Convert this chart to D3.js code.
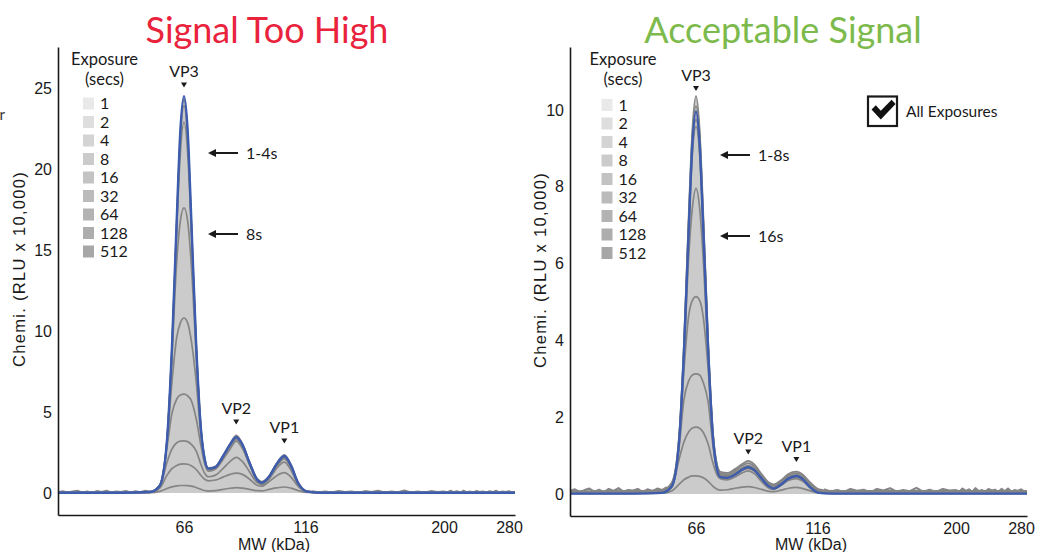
<!DOCTYPE html>
<html>
<head>
<meta charset="utf-8">
<script src="https://cdn.jsdelivr.net/npm/d3@7"></script>
<style>
  html, body { margin: 0; padding: 0; background: #fff; }
  svg { display: block; }
</style>
</head>
<body>
<svg id="chart" width="1042" height="552"></svg>
<script>
// ---------------------------------------------------------------
// Sample positions along the molecular-weight axis (kDa)
const mwGrid = [14, 40, 52, 56, 59, 61, 63, 64.5, 66, 67.5, 69, 71, 73, 74.5, 76, 79, 82,
                85, 87.5, 90, 93, 96, 98, 101, 104, 107.3, 110, 113, 117, 125, 150, 200, 287];

const exposures = [1, 2, 4, 8, 16, 32, 64, 128, 512];
const xTickValues = [66, 116, 200, 280];
const tooHighYTicks = [0, 5, 10, 15, 20, 25];
const acceptableYTicks = [0, 2, 4, 6, 8, 10];
const peakNames = ['VP3', 'VP2', 'VP1'];
const peakMW = [66, 87.5, 107.3];

// ---- Signal Too High: electropherograms per exposure (RLU x 10,000)
const tooHigh1s   = [0.05,0.06,0.08,0.5,3.3,8.9,16.8,22.2,24.3,22.2,16.8,9.25,3.95,2.15,1.55,1.65,2.3,3.05,3.55,3.05,1.9,0.9,0.7,1.05,1.8,2.35,1.75,0.65,0.12,0.06,0.05,0.06,0.05];
const tooHigh2s   = [0.04,0.05,0.07,0.48,3.3,8.8,16.6,21.9,23.9,21.9,16.6,9.1,3.9,2.1,1.5,1.62,2.27,3.02,3.5,3.02,1.87,0.87,0.66,1.02,1.77,2.31,1.72,0.62,0.1,0.05,0.04,0.05,0.04];
const tooHigh4s   = [0.03,0.04,0.06,0.46,3.25,8.7,16.3,21.0,22.9,21.0,16.3,9.0,3.85,2.08,1.48,1.6,2.24,2.98,3.44,2.98,1.85,0.85,0.64,1.0,1.75,2.27,1.69,0.6,0.09,0.04,0.03,0.04,0.03];
const tooHigh8s   = [0.03,0.03,0.05,0.45,3.2,8.3,14.3,16.8,17.6,16.8,14.1,8.6,3.8,2.05,1.47,1.58,2.22,2.95,3.4,2.95,1.83,0.84,0.63,0.99,1.73,2.25,1.68,0.6,0.09,0.03,0.03,0.03,0.03];
const tooHigh16s  = [0.03,0.03,0.05,0.44,3.1,6.8,9.6,10.5,10.8,10.5,9.4,6.9,3.5,1.98,1.44,1.55,2.17,2.88,3.3,2.88,1.8,0.83,0.62,0.98,1.7,2.2,1.65,0.58,0.09,0.03,0.03,0.03,0.03];
const tooHigh32s  = [0.02,0.02,0.05,0.43,2.85,4.9,5.8,6.05,6.1,6.0,5.7,4.6,2.9,1.8,1.35,1.48,2.05,2.72,3.2,2.75,1.72,0.8,0.6,0.95,1.62,2.1,1.58,0.56,0.08,0.02,0.02,0.02,0.02];
const tooHigh64s  = [0.02,0.02,0.04,0.38,1.9,2.7,3.1,3.2,3.22,3.17,3.0,2.6,1.75,1.22,1.0,1.1,1.5,1.95,2.2,1.95,1.3,0.65,0.52,0.85,1.5,1.9,1.42,0.5,0.07,0.02,0.02,0.02,0.02];
const tooHigh128s = [0.02,0.02,0.04,0.3,1.1,1.5,1.7,1.78,1.8,1.77,1.68,1.45,1.08,0.85,0.75,0.8,0.98,1.15,1.22,1.15,0.85,0.48,0.42,0.7,1.05,1.25,0.98,0.4,0.06,0.02,0.02,0.02,0.02];
const tooHigh512s = [0.01,0.01,0.02,0.1,0.28,0.38,0.44,0.46,0.46,0.45,0.42,0.34,0.22,0.15,0.12,0.15,0.22,0.29,0.33,0.3,0.22,0.14,0.13,0.22,0.31,0.37,0.3,0.15,0.03,0.01,0.01,0.01,0.01];
const tooHighHDR  = [0.01,0.01,0.06,0.45,3.3,8.9,16.9,22.4,24.5,22.4,16.9,9.2,3.9,2.1,1.5,1.6,2.25,3.0,3.45,3.0,1.85,0.85,0.64,1.0,1.75,2.28,1.7,0.6,0.08,0.01,0.01,0.01,0.01];

// ---- Acceptable Signal: electropherograms per exposure (RLU x 10,000)
const acceptable1s   = [0.07,0.08,0.1,0.3,1.5,3.9,7.3,9.5,10.36,9.5,7.3,4.0,1.6,0.82,0.58,0.55,0.65,0.78,0.86,0.77,0.52,0.3,0.25,0.36,0.52,0.58,0.5,0.3,0.12,0.08,0.08,0.08,0.08];
const acceptable2s   = [0.06,0.06,0.08,0.27,1.45,3.8,7.15,9.35,10.1,9.35,7.15,3.9,1.55,0.78,0.54,0.51,0.61,0.74,0.8,0.72,0.48,0.27,0.22,0.33,0.48,0.54,0.46,0.26,0.1,0.06,0.06,0.06,0.06];
const acceptable4s   = [0.04,0.04,0.06,0.23,1.38,3.7,6.95,9.0,9.75,9.0,6.95,3.8,1.5,0.74,0.5,0.47,0.56,0.68,0.74,0.66,0.44,0.23,0.18,0.29,0.44,0.5,0.42,0.22,0.07,0.04,0.04,0.04,0.04];
const acceptable8s   = [0.03,0.03,0.05,0.21,1.33,3.6,6.8,8.85,9.57,8.85,6.8,3.7,1.45,0.71,0.48,0.45,0.54,0.66,0.72,0.64,0.42,0.21,0.16,0.27,0.42,0.48,0.4,0.2,0.05,0.03,0.03,0.03,0.03];
const acceptable16s  = [0.03,0.03,0.05,0.2,1.3,3.5,6.2,7.45,7.96,7.45,6.1,3.62,1.42,0.69,0.47,0.44,0.53,0.65,0.7,0.63,0.41,0.2,0.15,0.26,0.41,0.47,0.39,0.19,0.04,0.03,0.03,0.03,0.03];
const acceptable32s  = [0.02,0.02,0.04,0.2,1.3,3.2,4.65,5.04,5.14,5.04,4.6,3.25,1.38,0.67,0.46,0.43,0.52,0.63,0.68,0.61,0.4,0.19,0.15,0.25,0.4,0.46,0.38,0.18,0.04,0.02,0.02,0.02,0.02];
const acceptable64s  = [0.02,0.02,0.04,0.19,1.2,2.45,2.95,3.1,3.13,3.1,2.9,2.4,1.25,0.64,0.45,0.42,0.5,0.62,0.66,0.6,0.39,0.19,0.14,0.24,0.39,0.45,0.37,0.17,0.04,0.02,0.02,0.02,0.02];
const acceptable128s = [0.02,0.02,0.03,0.17,0.9,1.35,1.62,1.72,1.74,1.71,1.6,1.3,0.8,0.52,0.4,0.37,0.44,0.55,0.6,0.53,0.32,0.15,0.12,0.22,0.35,0.4,0.33,0.16,0.04,0.02,0.02,0.02,0.02];
const acceptable512s = [0.01,0.01,0.02,0.08,0.25,0.37,0.44,0.47,0.47,0.46,0.42,0.33,0.2,0.13,0.1,0.11,0.15,0.18,0.19,0.17,0.12,0.07,0.06,0.1,0.15,0.17,0.14,0.08,0.02,0.01,0.01,0.01,0.01];
const acceptableHDR  = [0.01,0.01,0.03,0.2,1.35,3.65,6.9,9.1,9.96,9.1,6.9,3.75,1.45,0.7,0.44,0.42,0.5,0.63,0.7,0.62,0.4,0.2,0.14,0.25,0.4,0.47,0.38,0.17,0.03,0.01,0.01,0.01,0.01];

// ---- Baseline noise of the short exposures, on the flat stretches of the run
const noiseNearMW = d3.range(14, 55, 2);   // 14 ... 54 kDa
const noiseFarMW  = d3.range(120, 285, 4); // 120 ... 284 kDa
const tooHighNoiseNear   = [0.06,0.12,0.04,0.1,0.15,0.05,0.11,0.03,0.13,0.08,0.16,0.05,0.1,0.07,0.14,0.04,0.12,0.06,0.15,0.09,0.18];
const tooHighNoiseFar    = [0.12,0.06,0.1,0.04,0.14,0.08,0.11,0.03,0.13,0.07,0.16,0.05,0.1,0.06,0.17,0.05,0.11,0.04,0.13,0.08,0.1,0.05,0.15,0.07,0.12,0.04,0.16,0.06,0.1,0.05,0.14,0.08,0.11,0.04,0.13,0.07,0.15,0.05,0.1,0.07,0.12,0.05];
const acceptableNoiseNear = [0.08,0.12,0.05,0.1,0.14,0.06,0.11,0.04,0.13,0.08,0.15,0.06,0.1,0.09,0.13,0.05,0.12,0.07,0.14,0.1,0.18];
const acceptableNoiseFar  = [0.12,0.06,0.1,0.05,0.13,0.08,0.11,0.04,0.13,0.09,0.15,0.06,0.1,0.07,0.16,0.06,0.11,0.05,0.13,0.09,0.1,0.06,0.14,0.08,0.12,0.05,0.15,0.07,0.1,0.06,0.13,0.09,0.11,0.05,0.13,0.07,0.14,0.06,0.1,0.08,0.12,0.06];

// ---------------------------------------------------------------
// Styling
const FONT_TITLE = "Lato, 'Open Sans', sans-serif";
const FONT_TEXT  = "Lato, 'Open Sans', sans-serif";
const FONT_AXIS  = "'Liberation Sans', Arial, sans-serif";
const INK   = '#1a1a1a';
const FILL  = '#cbcbcb';
const TRACE = '#858585';
const BLUE  = '#3d5cae';
const swatchColors = ['#e9e9e9', '#dedede', '#d4d4d4', '#cbcbcb', '#c3c3c3', '#bbbbbb', '#b3b3b3', '#adadad', '#a7a7a7'];

// MW axis calibration: kDa -> pixel offset from the y axis (piecewise, ladder based)
const mwCalibration = [14, 66, 116, 200, 280, 287];
const axisOffsets   = [0, 126, 247.5, 386, 451, 457];

const svg = d3.select('#chart');

const panels = [
  {
    title: 'Signal Too High', titleColor: '#e9233c', titleX: 267,
    left: 58, top: 47, bottom: 515, yDomain: [-1.36, 27.53], yTicks: tooHighYTicks,
    traces: [tooHigh1s, tooHigh2s, tooHigh4s, tooHigh8s, tooHigh16s, tooHigh32s, tooHigh64s, tooHigh128s, tooHigh512s],
    hdr: tooHighHDR, noiseNear: tooHighNoiseNear, noiseFar: tooHighNoiseFar, noiseWidth: 1.5,
    yTitleX: 25, yTitleY: 269, xTitleX: 274,
    legendX: 104.5, legendRow0: 103.5,
    peakLabelY: [77, 414, 433],
    arrows: [{ y: 153, label: '1-4s' }, { y: 234, label: '8s' }]
  },
  {
    title: 'Acceptable Signal', titleColor: '#7dba4c', titleX: 783,
    left: 570, top: 47, bottom: 516, yDomain: [-0.573, 11.64], yTicks: acceptableYTicks,
    traces: [acceptable1s, acceptable2s, acceptable4s, acceptable8s, acceptable16s, acceptable32s, acceptable64s, acceptable128s, acceptable512s],
    hdr: acceptableHDR, noiseNear: acceptableNoiseNear, noiseFar: acceptableNoiseFar, noiseWidth: 2.2,
    yTitleX: 546, yTitleY: 270, xTitleX: 811,
    legendX: 623, legendRow0: 105,
    peakLabelY: [80.5, 444, 451.5],
    arrows: [{ y: 155, label: '1-8s' }, { y: 236, label: '16s' }]
  }
];

function drawPanel(p) {
  const g = svg.append('g');
  const x = d3.scaleLinear().domain(mwCalibration).range(axisOffsets.map(o => p.left + o));
  const y = d3.scaleLinear().domain(p.yDomain).range([p.bottom, p.top]);

  // grey envelope fill under the tallest trace
  const envelope = mwGrid.map((m, i) => d3.max(p.traces.concat([p.hdr]), t => t[i]));
  const area = d3.area()
    .x((d, i) => x(mwGrid[i])).y0(y(0)).y1(d => y(d))
    .curve(d3.curveMonotoneX);
  g.append('path').datum(envelope).attr('d', area).attr('fill', FILL);

  const line = d3.line()
    .x((d, i) => x(mwGrid[i])).y(d => y(d))
    .curve(d3.curveMonotoneX);

  // individual exposures, longest first so short exposures sit on top
  p.traces.slice().reverse().forEach(t => {
    g.append('path').datum(t).attr('d', line)
      .attr('fill', 'none').attr('stroke', TRACE).attr('stroke-width', 1.7);
  });

  // baseline noise
  const noiseLine = d3.line().x(d => x(d[0])).y(d => y(d[1]));
  [[noiseNearMW, p.noiseNear], [noiseFarMW, p.noiseFar]].forEach(([mw, vals]) => {
    g.append('path').datum(mw.map((m, i) => [m, vals[i]])).attr('d', noiseLine)
      .attr('fill', 'none').attr('stroke', TRACE).attr('stroke-width', p.noiseWidth)
      .attr('stroke-linejoin', 'round');
  });

  // high dynamic range composite
  g.append('path').datum(p.hdr).attr('d', line)
    .attr('fill', 'none').attr('stroke', BLUE).attr('stroke-width', 2.4);

  // axes
  const yAxis = d3.axisLeft(y).tickValues(p.yTicks).tickSize(0).tickPadding(6).tickSizeOuter(0);
  const xAxis = d3.axisBottom(x).tickValues(xTickValues).tickSize(0).tickPadding(7).tickSizeOuter(0);
  const ya = g.append('g').attr('transform', `translate(${p.left},0)`).call(yAxis);
  const xa = g.append('g').attr('transform', `translate(0,${p.bottom})`).call(xAxis);
  [ya, xa].forEach(a => {
    a.select('.domain').attr('stroke', INK).attr('stroke-width', 1.6);
    a.selectAll('text').attr('font-family', FONT_AXIS).attr('font-size', 16).attr('fill', INK);
  });

  // axis titles
  g.append('text')
    .attr('transform', `translate(${p.yTitleX},${p.yTitleY}) rotate(-90)`)
    .attr('text-anchor', 'middle').attr('font-family', FONT_AXIS).attr('font-size', 16.5)
    .attr('letter-spacing', 1.3).attr('fill', INK)
    .text('Chemi. (RLU x 10,000)');
  g.append('text')
    .attr('x', p.xTitleX).attr('y', 550).attr('text-anchor', 'middle')
    .attr('font-family', FONT_AXIS).attr('font-size', 16).attr('fill', INK)
    .text('MW (kDa)');

  // title
  g.append('text')
    .attr('x', p.titleX).attr('y', 42.5).attr('text-anchor', 'middle')
    .attr('font-family', FONT_TITLE).attr('font-size', 36).attr('fill', p.titleColor)
    .text(p.title);

  // exposure legend
  const lg = g.append('g').attr('font-family', FONT_TEXT).attr('fill', INK);
  lg.append('text').attr('x', p.legendX).attr('y', 65).attr('text-anchor', 'middle')
    .attr('font-size', 16.5).text('Exposure');
  lg.append('text').attr('x', p.legendX).attr('y', 84.5).attr('text-anchor', 'middle')
    .attr('font-size', 16.5).text('(secs)');
  const rows = lg.selectAll('g.row').data(exposures).join('g').attr('class', 'row')
    .attr('transform', (d, i) => `translate(${p.legendX},${p.legendRow0 + i * 18.5})`);
  rows.append('rect').attr('x', -21.5).attr('y', -6).attr('width', 11).attr('height', 12)
    .attr('fill', (d, i) => swatchColors[i]);
  rows.append('text').attr('x', -4.5).attr('y', 5.8).attr('font-size', 16).text(d => d);

  // peak labels with markers
  peakNames.forEach((name, i) => {
    const px = x(peakMW[i]);
    const ty = p.peakLabelY[i];
    g.append('text').attr('x', px).attr('y', ty).attr('text-anchor', 'middle')
      .attr('font-family', FONT_TEXT).attr('font-size', 16).attr('fill', INK).text(name);
    g.append('path')
      .attr('d', `M${px - 3},${ty + 5.5}L${px + 3},${ty + 5.5}L${px},${ty + 10.5}Z`)
      .attr('fill', INK);
  });

  // exposure call-out arrows
  p.arrows.forEach(a => {
    const tip = p.left + 150, tail = p.left + 180;
    g.append('line').attr('x1', tip + 5).attr('x2', tail).attr('y1', a.y).attr('y2', a.y)
      .attr('stroke', INK).attr('stroke-width', 2);
    g.append('path').attr('d', `M${tip},${a.y}L${tip + 8},${a.y - 4}L${tip + 8},${a.y + 4}Z`)
      .attr('fill', INK);
    g.append('text').attr('x', p.left + 188).attr('y', a.y + 5.5)
      .attr('font-family', FONT_TEXT).attr('font-size', 16).attr('fill', INK).text(a.label);
  });
}

panels.forEach(drawPanel);

// "All Exposures" check box
const cb = svg.append('g');
cb.append('rect').attr('x', 868).attr('y', 96.5).attr('width', 29).attr('height', 29.5)
  .attr('fill', '#fff').attr('stroke', INK).attr('stroke-width', 2.2);
cb.append('path')
  .attr('d', 'M871.5,109.5L875.8,105.3L880.8,110.8L891.6,99.8L895.6,104L880.8,119.5Z')
  .attr('fill', '#111');
cb.append('text').attr('x', 906).attr('y', 116.5)
  .attr('font-family', FONT_TEXT).attr('font-size', 15.5).attr('fill', INK).text('All Exposures');

// clipped glyph at the left page edge
svg.append('text').attr('x', 5).attr('y', 120).attr('text-anchor', 'end')
  .attr('font-family', FONT_TEXT).attr('font-size', 15).attr('fill', '#333').text('r');
</script>
</body>
</html>
